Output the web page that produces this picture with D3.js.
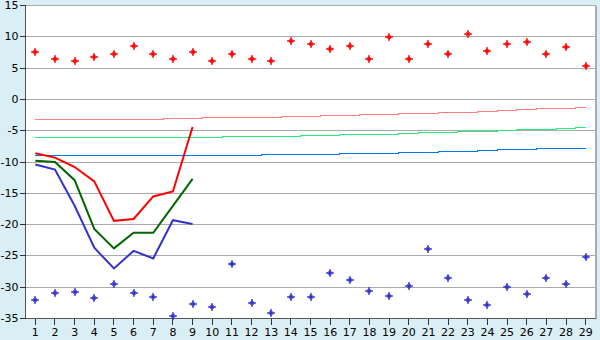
<!DOCTYPE html>
<html>
<head>
<meta charset="utf-8">
<script src="https://cdn.jsdelivr.net/npm/d3@7"></script>
<style>
  body { margin: 0; background: #d9eff5; }
  text { font-family: "DejaVu Sans", Verdana, sans-serif; font-size: 11px; fill: #000; }
</style>
</head>
<body>
<div id="viz"></div>
<script>
const days = [1, 2, 3, 4, 5, 6, 7, 8, 9, 10, 11, 12, 13, 14, 15, 16, 17, 18, 19, 20, 21, 22, 23, 24, 25, 26, 27, 28, 29];
const yTicks = [-35, -30, -25, -20, -15, -10, -5, 0, 5, 10, 15];

// scattered points, one per day
const redPts = [7.5, 6.5, 6.1, 6.7, 7.3, 8.6, 7.2, 6.5, 7.5, 6.1, 7.2, 6.5, 6.1, 9.4, 8.8, 8.1, 8.6, 6.4, 9.9, 6.5, 8.8, 7.3, 10.4, 7.7, 8.8, 9.1, 7.2, 8.4, 5.3];
const bluePts = [-32.0, -30.9, -30.8, -31.7, -29.5, -30.9, -31.6, -34.6, -32.7, -33.1, -26.3, -32.5, -34.1, -31.6, -31.6, -27.8, -28.9, -30.6, -31.4, -29.8, -23.9, -28.5, -32.0, -32.8, -30.0, -31.1, -28.5, -29.5, -25.1];

// lines for the first 9 days
const redLine = [-8.6, -9.3, -10.8, -13.1, -19.4, -19.1, -15.5, -14.7, -4.4];
const greenLine = [-9.8, -10.0, -12.9, -20.7, -23.8, -21.3, -21.3, -17.0, -12.7];
const blueLine = [-10.4, -11.2, -17.0, -23.7, -27.0, -24.2, -25.4, -19.3, -19.9];

// thin step lines across all days
const pinkStep = [-3.15, -3.15, -3.15, -3.15, -3.15, -3.15, -3.15, -2.99, -2.99, -2.83, -2.83, -2.83, -2.83, -2.68, -2.68, -2.52, -2.52, -2.36, -2.36, -2.20, -2.20, -2.04, -2.04, -1.88, -1.72, -1.56, -1.40, -1.40, -1.24];
const greenStep = [-6.02, -6.02, -6.02, -6.02, -6.02, -6.02, -6.02, -6.02, -6.02, -6.02, -5.86, -5.86, -5.86, -5.86, -5.70, -5.70, -5.54, -5.54, -5.54, -5.38, -5.22, -5.22, -5.06, -5.06, -4.90, -4.75, -4.75, -4.59, -4.43];
const blueStep = [-9.04, -9.04, -9.04, -9.04, -9.04, -9.04, -9.04, -9.04, -9.04, -8.89, -8.89, -8.89, -8.73, -8.73, -8.73, -8.73, -8.57, -8.57, -8.57, -8.41, -8.41, -8.25, -8.25, -8.09, -7.93, -7.93, -7.77, -7.77, -7.77];

const width = 600;
const height = 340;
const margin = {left: 25.5, right: 4.5, top: 5.5, bottom: 20.5};

const svg = d3.select("#viz").append("svg")
    .attr("width", width)
    .attr("height", height)
    .style("display", "block");

svg.append("rect")
    .attr("width", width)
    .attr("height", height)
    .attr("fill", "#d9eff5");

const xScale = d3.scaleLinear()
    .domain([0.5, 29.5])
    .range([margin.left, width - margin.right]);

const yScale = d3.scaleLinear()
    .domain([-35, 15])
    .range([height - margin.bottom - 1, margin.top]);

svg.append("rect")
    .attr("x", xScale(0.5))
    .attr("y", yScale(15))
    .attr("width", xScale(29.5) - xScale(0.5))
    .attr("height", yScale(-35) - yScale(15))
    .attr("fill", "white");

// grid
svg.append("g")
    .selectAll("line")
    .data(yTicks)
    .join("line")
        .attr("x1", xScale(0.5))
        .attr("x2", xScale(29.5))
        .attr("y1", d => yScale(d))
        .attr("y2", d => yScale(d))
        .attr("stroke", "#aaaaaa")
        .attr("shape-rendering", "crispEdges");

svg.append("line")
    .attr("x1", xScale(29.5))
    .attr("x2", xScale(29.5))
    .attr("y1", yScale(15))
    .attr("y2", yScale(-35))
    .attr("stroke", "#aaaaaa")
    .attr("stroke-width", 2)
    .attr("shape-rendering", "crispEdges");

const fmt = d => String(d);

const yAxis = svg.append("g")
    .attr("transform", `translate(${xScale(0.5)},0)`)
    .call(d3.axisLeft(yScale).tickValues(yTicks).tickFormat(fmt).tickSize(6).tickSizeOuter(0).tickPadding(1).offset(0));

const xAxis = svg.append("g")
    .attr("transform", `translate(0,${yScale(-35)})`)
    .call(d3.axisBottom(xScale).tickValues(days).tickFormat(fmt).tickSize(6).tickSizeOuter(0).tickPadding(4).offset(0));

svg.selectAll(".domain").attr("stroke", "#555").attr("shape-rendering", "crispEdges");
svg.selectAll(".tick line").attr("stroke", "#333").attr("shape-rendering", "crispEdges");
svg.selectAll(".tick text").attr("fill", "#000").style("font-size", "11px");

// step lines
const stepLine = d3.line()
    .x((d, i) => xScale(days[i]))
    .y(d => yScale(d))
    .curve(d3.curveStep);

[[pinkStep, "#ff8080"], [greenStep, "#22ee77"], [blueStep, "#0077ee"]].forEach(([s, c]) => {
    svg.append("path")
        .attr("d", stepLine(s))
        .attr("fill", "none")
        .attr("stroke", c)
        .attr("stroke-width", 1)
        .attr("shape-rendering", "crispEdges");
});

// thick lines
const line = d3.line()
    .x((d, i) => xScale(days[i]))
    .y(d => yScale(d));

[[blueLine, "#3333cc"], [greenLine, "#006600"], [redLine, "#ff0000"]].forEach(([s, c]) => {
    svg.append("path")
        .attr("d", line(s))
        .attr("fill", "none")
        .attr("stroke", c)
        .attr("stroke-width", 2);
});

// point markers: small plus with a solid centre
const marker = "M-0.5,-3.5H0.5V-1.5H1.5V-0.5H3.5V0.5H1.5V1.5H0.5V3.5H-0.5V1.5H-1.5V0.5H-3.5V-0.5H-1.5V-1.5H-0.5Z";

[[redPts, "#ff0000"], [bluePts, "#3333cc"]].forEach(([s, c]) => {
    svg.append("g")
        .selectAll("path")
        .data(s)
        .join("path")
            .attr("d", marker)
            .attr("transform", (d, i) => `translate(${Math.round(xScale(days[i]))},${Math.round(yScale(d))})`)
            .attr("fill", c)
            .attr("stroke", c)
            .attr("stroke-width", 0.6);
});
</script>
</body>
</html>
